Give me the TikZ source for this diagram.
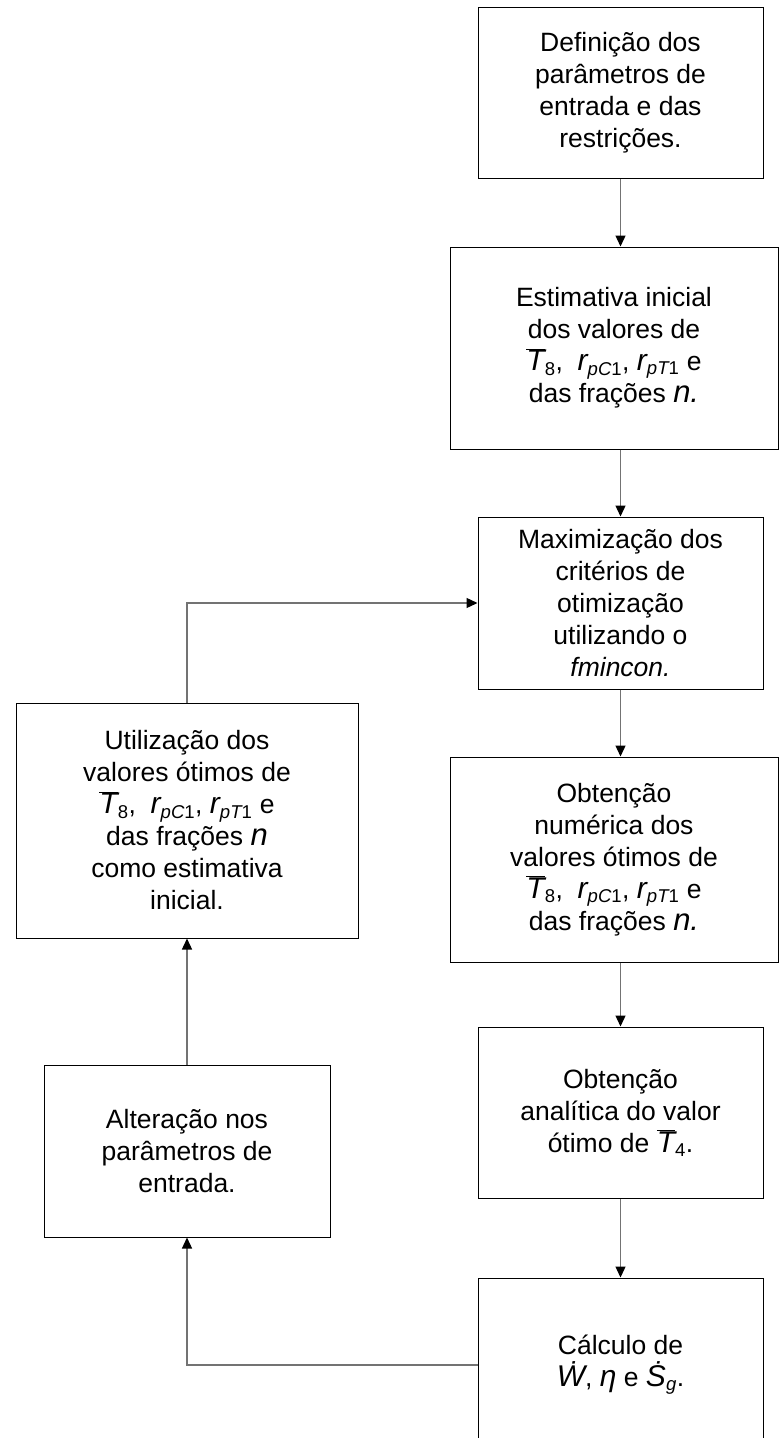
\documentclass[tikz,border=0pt]{standalone}
\usepackage{fontspec}
\setmainfont{Liberation Sans}
\usepackage{tikz}
\usetikzlibrary{arrows.meta,positioning}
\tikzset{
    stepbox/.style={rectangle, draw=black, line width=1pt, inner sep=0pt, align=center, font=\fontsize{26.5}{32}\selectfont},
    narrow/.style={stepbox, minimum width=285pt, minimum height=172pt},
    wide/.style={stepbox, minimum width=328pt, minimum height=204pt},
    arrow/.style={-{Triangle[length=11pt,width=10pt,color=black]}, draw=black!55, line width=1.3pt}
}
\newcommand{\Tbar}[1]{{\fontsize{30}{32}\selectfont$\overline{\hbox{\itshape T}}$}\textsubscript{#1}}
\newcommand{\rsub}[1]{{\fontsize{30}{32}\selectfont\itshape r}\textsubscript{\itshape p#1\upshape 1}}
\newcommand{\nbig}[1]{{\fontsize{31}{32}\selectfont\itshape #1}}

\begin{document}
\begin{tikzpicture}[x=1pt, y=-1pt]
\useasboundingbox (0,0) rectangle (779,1438);

% Right column
\node[narrow, minimum height=171pt] (defn) at (620.5,92.5) {Definição dos\\parâmetros de\\entrada e das\\restrições.};
\node[wide, minimum height=202pt, below=68pt of defn, xshift=-6.5pt] (estim) {Estimativa inicial\\dos valores de\\\Tbar{8}, \ \rsub{C}, \rsub{T} e\\das frações \nbig{n.}};
\node[narrow, below=67pt of estim, xshift=6.5pt] (maxim) {Maximização dos\\critérios de\\otimização\\utilizando o\\\textit{fmincon.}};
\node[wide, minimum height=205pt, below=67pt of maxim, xshift=-6.5pt] (numer) {Obtenção\\numérica dos\\valores ótimos de\\\Tbar{8}, \ \rsub{C}, \rsub{T} e\\das frações \nbig{n.}};
\node[narrow, minimum height=171pt, below=64pt of numer, xshift=6.5pt] (anal) {Obtenção\\analítica do valor\\ótimo de \Tbar{4}.};
\node[narrow, minimum height=174pt, below=79pt of anal] (calc) {Cálculo de\\{\fontsize{30}{32}\selectfont\itshape \.W}, {\fontsize{30}{32}\selectfont\itshape η} e {\fontsize{30}{32}\selectfont\itshape \.S}\textsubscript{\itshape g}.};

% Left column
\node[stepbox, minimum width=342pt, minimum height=235pt] (util) at (187,820.5) {Utilização dos\\valores ótimos de\\\Tbar{8}, \ \rsub{C}, \rsub{T} e\\das frações \nbig{n}\\como estimativa\\inicial.};
\node[narrow, minimum width=286pt, below=126pt of util] (alter) {Alteração nos\\parâmetros de\\entrada.};

% Arrows
\draw[arrow] (defn.south) -- (defn.south |- estim.north);
\draw[arrow] (defn.south |- estim.south) -- (maxim.north);
\draw[arrow] (maxim.south) -- (maxim.south |- numer.north);
\draw[arrow] (maxim.south |- numer.south) -- (anal.north);
\draw[arrow] (anal.south) -- (calc.north);
\draw[arrow] (calc.west) -| (alter.south);
\draw[arrow] (alter.north) -- (util.south);
\draw[arrow] (util.north) |- (maxim.west);

\end{tikzpicture}
\end{document}
